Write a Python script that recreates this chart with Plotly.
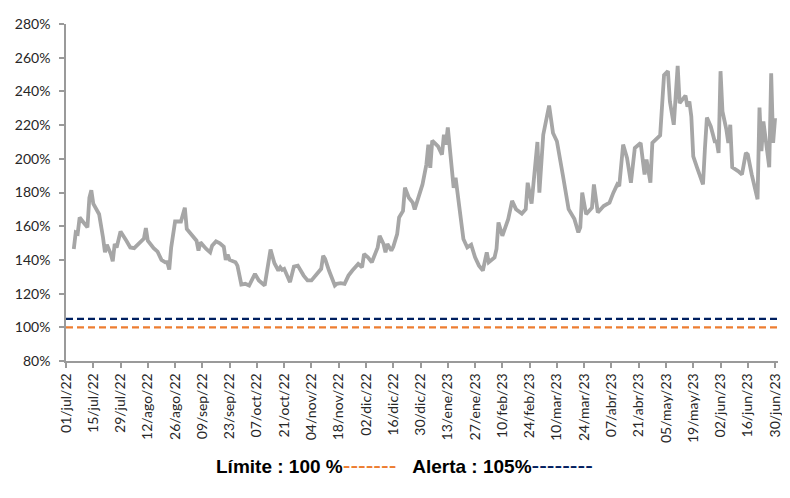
import plotly.graph_objects as go

# ---- data ----
dates = [
    "2022-07-05","2022-07-06","2022-07-07","2022-07-08","2022-07-10","2022-07-12","2022-07-13","2022-07-14",
    "2022-07-15","2022-07-18","2022-07-20","2022-07-21","2022-07-22","2022-07-24","2022-07-25","2022-07-26",
    "2022-07-27","2022-07-29","2022-08-01","2022-08-03","2022-08-05","2022-08-08","2022-08-10","2022-08-11",
    "2022-08-12","2022-08-15","2022-08-17","2022-08-19","2022-08-21","2022-08-22","2022-08-23","2022-08-24",
    "2022-08-26","2022-08-29","2022-08-30","2022-08-31","2022-09-01","2022-09-03","2022-09-06","2022-09-07",
    "2022-09-08","2022-09-11","2022-09-13","2022-09-14","2022-09-16","2022-09-18","2022-09-20","2022-09-21",
    "2022-09-22","2022-09-23","2022-09-26","2022-09-27","2022-09-29","2022-10-01","2022-10-03","2022-10-06",
    "2022-10-08","2022-10-11","2022-10-14","2022-10-16","2022-10-18","2022-10-19","2022-10-20","2022-10-21",
    "2022-10-24","2022-10-26","2022-10-28","2022-10-31","2022-11-02","2022-11-04","2022-11-06","2022-11-09",
    "2022-11-10","2022-11-11","2022-11-13","2022-11-16","2022-11-17","2022-11-19","2022-11-21","2022-11-23",
    "2022-11-25","2022-11-27","2022-11-28","2022-11-30","2022-12-01","2022-12-03","2022-12-05","2022-12-07",
    "2022-12-08","2022-12-09","2022-12-11","2022-12-12","2022-12-13","2022-12-15","2022-12-16","2022-12-18",
    "2022-12-19","2022-12-21","2022-12-22","2022-12-24","2022-12-26","2022-12-27","2022-12-29","2022-12-31",
    "2023-01-02","2023-01-03","2023-01-04","2023-01-05","2023-01-08","2023-01-10","2023-01-11","2023-01-12",
    "2023-01-13","2023-01-14","2023-01-16","2023-01-17","2023-01-19","2023-01-20","2023-01-21","2023-01-23",
    "2023-01-25","2023-01-27","2023-01-29","2023-01-31","2023-02-02","2023-02-03","2023-02-06","2023-02-07",
    "2023-02-08","2023-02-10","2023-02-13","2023-02-15","2023-02-17","2023-02-20","2023-02-22","2023-02-23",
    "2023-02-25","2023-02-28","2023-03-01","2023-03-03","2023-03-06","2023-03-08","2023-03-10","2023-03-13",
    "2023-03-16","2023-03-19","2023-03-21","2023-03-22","2023-03-23","2023-03-25","2023-03-28","2023-03-29",
    "2023-03-31","2023-04-03","2023-04-06","2023-04-08","2023-04-10","2023-04-11","2023-04-13","2023-04-15",
    "2023-04-17","2023-04-19","2023-04-22","2023-04-24","2023-04-25","2023-04-27","2023-04-28","2023-05-02",
    "2023-05-03","2023-05-04","2023-05-06","2023-05-07","2023-05-09","2023-05-11","2023-05-12","2023-05-15",
    "2023-05-16","2023-05-17","2023-05-18","2023-05-19","2023-05-21","2023-05-24","2023-05-25","2023-05-26",
    "2023-05-28","2023-05-30","2023-05-31","2023-06-01","2023-06-02","2023-06-03","2023-06-05","2023-06-06",
    "2023-06-07","2023-06-08","2023-06-11","2023-06-13","2023-06-15","2023-06-16","2023-06-18","2023-06-21",
    "2023-06-22","2023-06-23","2023-06-24","2023-06-25","2023-06-27","2023-06-28","2023-06-29","2023-06-30",
]
ratio = [
    146.5,156.3,155.7,165.2,162.2,159.3,176.9,181.3,
    173.4,167.1,153.3,144.5,149.0,143.5,139.2,149.4,
    147.4,156.9,151.4,147.4,147.0,150.4,152.7,158.9,
    151.4,147.0,144.9,140.0,138.6,138.6,134.3,147.4,
    162.8,162.8,167.5,171.0,158.3,155.3,151.4,145.5,
    150.4,146.5,144.5,148.4,151.0,149.8,147.8,140.0,
    143.1,140.0,138.6,136.6,125.4,125.8,124.8,131.7,
    127.8,124.8,146.1,138.0,133.7,135.6,134.1,134.7,
    126.8,136.0,136.6,130.7,127.8,127.8,130.7,134.7,
    142.5,140.6,133.7,124.8,125.8,126.2,125.8,130.7,
    133.7,136.0,137.6,135.6,143.5,141.5,138.6,144.5,
    147.4,154.3,149.4,144.5,149.4,145.5,147.8,155.3,
    165.2,169.1,182.8,176.9,174.0,170.0,176.9,184.8,
    196.6,208.4,194.6,210.8,207.4,202.5,214.3,208.4,
    218.6,206.4,182.8,188.7,171.0,160.2,152.4,147.4,
    149.0,141.5,136.6,133.7,144.5,138.6,141.5,146.5,
    162.2,154.3,164.2,175.0,170.1,167.5,170.1,185.8,
    173.4,210.0,179.9,214.3,231.6,215.3,210.4,190.7,
    170.1,164.2,156.3,159.3,179.9,167.1,171.0,184.8,
    168.1,172.0,174.0,179.9,184.8,183.8,208.4,200.5,
    185.8,206.4,209.4,190.7,199.6,185.8,209.4,213.9,
    234.0,249.7,252.0,234.0,220.2,255.2,233.0,237.5,
    231.0,234.0,225.1,201.5,194.6,184.8,206.4,224.5,
    219.2,210.4,210.4,203.5,252.0,228.1,217.3,209.4,
    220.2,195.0,192.7,190.7,203.5,202.5,190.7,176.0,
    230.4,204.5,222.2,214.3,195.0,250.7,209.4,224.1,
]

limit_value = 100   # Límite
alert_value = 105   # Alerta
line_span = ["2022-07-01", "2023-07-01 12:00"]

tick_dates = [
    "2022-07-01","2022-07-15","2022-07-29","2022-08-12","2022-08-26","2022-09-09","2022-09-23",
    "2022-10-07","2022-10-21","2022-11-04","2022-11-18","2022-12-02","2022-12-16","2022-12-30",
    "2023-01-13","2023-01-27","2023-02-10","2023-02-24","2023-03-10","2023-03-24","2023-04-07",
    "2023-04-21","2023-05-05","2023-05-19","2023-06-02","2023-06-16","2023-06-30",
]
tick_labels = [
    "01/jul/22","15/jul/22","29/jul/22","12/ago/22","26/ago/22","09/sep/22","23/sep/22",
    "07/oct/22","21/oct/22","04/nov/22","18/nov/22","02/dic/22","16/dic/22","30/dic/22",
    "13/ene/23","27/ene/23","10/feb/23","24/feb/23","10/mar/23","24/mar/23","07/abr/23",
    "21/abr/23","05/may/23","19/may/23","02/jun/23","16/jun/23","30/jun/23",
]

GRAY = "#A6A6A6"
ORANGE = "#ED7D31"
NAVY = "#002060"
AXIS = "#9A9A9A"
TICKFONT = dict(family="Lato, Carlito, sans-serif", size=14, color="#262626")

fig = go.Figure()
fig.add_trace(go.Scatter(x=line_span, y=[limit_value, limit_value], mode="lines",
                         line=dict(color=ORANGE, width=2.2, dash="7px,4px"), hoverinfo="skip"))
fig.add_trace(go.Scatter(x=line_span, y=[alert_value, alert_value], mode="lines",
                         line=dict(color=NAVY, width=2.2, dash="7px,4px"), hoverinfo="skip"))
fig.add_trace(go.Scatter(x=dates, y=ratio, mode="lines",
                         line=dict(color=GRAY, width=3.8)))

fig.update_layout(
    width=782, height=490,
    margin=dict(l=54, r=7, t=14, b=137),
    paper_bgcolor="white", plot_bgcolor="white",
    showlegend=False,
    xaxis=dict(
        type="date", range=["2022-07-01", "2023-07-01 12:00"],
        tickvals=tick_dates, ticktext=tick_labels, tickangle=-90,
        showgrid=False, zeroline=False,
        showline=True, linecolor=AXIS, linewidth=1.5,
        ticks="outside", ticklen=5, tickcolor=AXIS, tickwidth=1.5,
        tickfont=TICKFONT,
    ),
    yaxis=dict(
        range=[80, 280], dtick=20, tick0=80, ticksuffix="%",
        showgrid=False, zeroline=False,
        showline=True, linecolor=AXIS, linewidth=1.5,
        ticks="outside", ticklen=5, tickcolor=AXIS, tickwidth=1.5,
        tickfont=TICKFONT, ticklabelstandoff=6,
    ),
    annotations=[dict(
        xref="paper", yref="paper", x=0.476, y=-0.31,
        xanchor="center", yanchor="middle", showarrow=False,
        text=(f"<b>Límite : {limit_value} %</b>"
              f"<span style='color:{ORANGE};font-size:23px'>-------</span>"
              f"   <b>Alerta : {alert_value}%</b>"
              f"<span style='color:{NAVY};font-size:23px'>--------</span>"),
        font=dict(family="Liberation Sans, Arial, sans-serif", size=19, color="#000000"),
    )],
)

fig.write_html("out.html")
